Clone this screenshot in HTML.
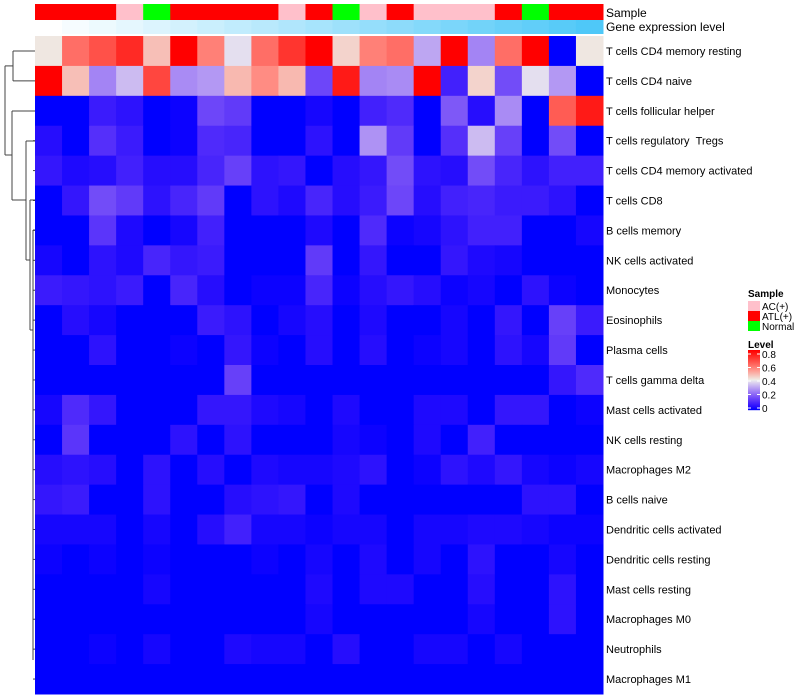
<!DOCTYPE html>
<html><head><meta charset="utf-8"><style>
body{margin:0;background:#fff;}
svg{display:block;font-family:"Liberation Sans",sans-serif;}
</style></head><body>
<svg id="chart" width="800" height="700"></svg>
<script>
const rowLabels=["T cells CD4 memory resting","T cells CD4 naive","T cells follicular helper","T cells regulatory\u00a0\u00a0Tregs","T cells CD4 memory activated","T cells CD8","B cells memory","NK cells activated","Monocytes","Eosinophils","Plasma cells","T cells gamma delta","Mast cells activated","NK cells resting","Macrophages M2","B cells naive","Dendritic cells activated","Dendritic cells resting","Mast cells resting","Macrophages M0","Neutrophils","Macrophages M1"];
const sampleGroups=["ATL","ATL","ATL","AC","Normal","ATL","ATL","ATL","ATL","AC","ATL","Normal","AC","ATL","AC","AC","AC","ATL","Normal","ATL","ATL"];
const values=[
[.41,.6,.65,.72,.47,.8,.57,.38,.6,.7,.8,.44,.57,.6,.3,.8,.25,.6,.8,0,.41],
[.8,.47,.25,.33,.67,.26,.28,.48,.55,.48,.15,.75,.25,.26,.8,.08,.44,.16,.38,.28,0],
[0,0,.07,.05,0,.01,.15,.13,0,0,.02,0,.08,.1,0,.18,.04,.26,0,.63,.75],
[.04,0,.11,.07,0,.01,.1,.09,0,0,.05,0,.27,.13,0,.11,.33,.14,0,.16,0],
[.06,.03,.04,.08,.04,.04,.09,.14,.05,.06,0,.04,.06,.16,.05,.04,.16,.09,.05,.08,.08],
[0,.06,.16,.13,.05,.09,.13,0,.05,.03,.09,.04,.07,.15,.04,.08,.09,.07,.07,.05,0],
[0,0,.12,.03,0,.02,.08,0,0,0,.03,0,.10,.01,.02,.05,.08,.08,0,0,.02],
[.02,0,.05,.03,.09,.06,.07,0,0,0,.13,0,.06,0,0,.06,.03,.02,0,0,0],
[.07,.06,.05,.07,0,.09,.04,0,.01,.01,.09,.01,.04,.06,.04,.01,.02,0,.05,.01,0],
[0,.04,.02,0,0,0,.07,.05,0,.02,.04,0,.03,0,0,.02,0,.06,0,.14,.07],
[0,0,.05,0,0,.01,0,.06,.01,0,.04,0,.04,0,.01,.02,0,.05,.02,.13,0],
[0,0,0,0,0,0,0,.14,0,0,0,0,0,0,0,0,0,0,0,.06,.1],
[.02,.1,.06,0,0,0,.06,.06,.03,.02,0,.03,0,0,.03,.03,0,.06,.06,0,.01],
[0,.12,0,0,0,.05,0,.05,0,0,0,.02,.01,0,.03,0,.08,0,0,0,0],
[.04,.05,.04,0,.05,0,.04,0,.03,.02,.02,.03,.05,0,.01,.05,.03,.06,.02,.01,.02],
[.06,.07,0,0,.05,0,0,.04,.05,.06,0,.03,0,0,0,0,0,0,.05,.05,0],
[.02,.02,.02,0,.02,0,.04,.08,.02,.02,.01,.02,.02,0,.02,.02,.03,.03,.02,.01,.01],
[.01,0,.01,0,.01,0,0,0,.01,0,.02,0,.03,0,.02,0,.05,0,0,.02,0],
[0,0,0,0,.02,0,0,0,0,0,.03,0,.03,.03,0,0,.04,0,0,.05,0],
[0,0,0,0,0,0,0,0,0,0,.02,0,0,0,0,0,.02,0,0,.05,0],
[0,0,.01,0,.02,0,0,.03,.02,.02,0,.04,0,0,.02,.02,0,.02,0,0,0],
[0,0,0,0,0,0,0,0,0,0,0,0,0,0,0,0,0,0,0,0,0]
];
const legendTicks=["0.8","0.6","0.4","0.2","0"];
const NS="http://www.w3.org/2000/svg";
const svg=document.getElementById('chart');
const X0=35,X1=603,Y0=36,Y1=694;
const nC=values[0].length,nR=values.length;
const cw=(X1-X0)/nC,rh=(Y1-Y0)/nR;
const xPos=c=>X0+c*cw, yPos=r=>Y0+r*rh;
function col(v){
  if(v<=0.4){const t=Math.max(0,v)/0.4;return `rgb(${Math.round(238*Math.pow(t,0.8))},${Math.round(238*Math.pow(t,1.25))},${Math.round(255-17*t)})`;}
  const s=Math.min(1,(v-0.4)/0.4);
  const r=Math.round(238+17*Math.min(1,s*3));
  const g=Math.round(238*(1-s)*(1-0.15*s));
  const b=Math.round(232*(1-s)*(1-0.25*s));
  return `rgb(${r},${g},${b})`;
}
const gcol={ATL:"#ff0000",AC:"#ffc0cb",Normal:"#00ff00"};
function mk(tag,attrs){const e=document.createElementNS(NS,tag);for(const k in attrs)e.setAttribute(k,attrs[k]);svg.appendChild(e);return e;}
sampleGroups.forEach((g,c)=>{
  const e=mk('rect',{x:xPos(c),y:4,width:cw+0.5,height:16,fill:gcol[g]});
  
  
  const t=c/(nC-1);
  const e2=mk('rect',{x:xPos(c),y:20,width:cw+0.5,height:14,fill:`rgb(${Math.round(255-176*t)},${Math.round(255-55*t)},${Math.round(255-7*t)})`});
  
  
});
let t1=mk('text',{x:606,y:17,'font-size':12,fill:'#000'});t1.textContent="Sample";

let t2=mk('text',{x:606,y:31,'font-size':12,fill:'#000'});t2.textContent="Gene expression level";

values.forEach((row,r)=>{row.forEach((v,c)=>{
  const e=mk('rect',{x:xPos(c),y:yPos(r),width:cw+0.5,height:rh+0.5,fill:col(v)});
  
  
});
  const t=mk('text',{x:606,y:yPos(r)+rh/2+4,'font-size':11,fill:'#000'});
  t.textContent=rowLabels[r];
  
  
});
const yc=r=>yPos(r)+rh/2;
const dl=[[13,yc(0),35,yc(0)],[13,yc(1),35,yc(1)],[13,yc(0),13,yc(1)],
[5,(yc(0)+yc(1))/2,13,(yc(0)+yc(1))/2],[5,(yc(0)+yc(1))/2,5,155],[5,155,12,155],
[12,111,12,200],[12,111,35,111],[12,200,26,200],[26,141,26,260],[26,141,35,141],[26,260,30,260],[30,200,30,330],[30,200,35,200],[30,330,33,330],[33,230,33,660],[33,230,35,230]];
const g=document.createElementNS(NS,'g');svg.appendChild(g);
dl.forEach(l=>{const e=document.createElementNS(NS,'line');e.setAttribute('x1',l[0]);e.setAttribute('y1',l[1]);e.setAttribute('x2',l[2]);e.setAttribute('y2',l[3]);e.setAttribute('stroke','#444');e.setAttribute('stroke-width','1');g.appendChild(e);});
for(let r=3;r<nR;r++){const e=document.createElementNS(NS,'line');e.setAttribute('x1',33);e.setAttribute('x2',35);e.setAttribute('y1',yc(r));e.setAttribute('y2',yc(r));e.setAttribute('stroke','#444');g.appendChild(e);}
let lt=mk('text',{x:748,y:297,'font-size':10,'font-weight':'bold'});lt.textContent="Sample";

[["AC","AC(+)"],["ATL","ATL(+)"],["Normal","Normal"]].forEach((p,i)=>{
  const r=mk('rect',{x:748,y:301+i*10,width:12,height:10,fill:gcol[p[0]]});
  
  const t=mk('text',{x:762,y:310+i*10,'font-size':10});t.textContent=p[1];
  
});
let lv=mk('text',{x:748,y:348,'font-size':10,'font-weight':'bold'});lv.textContent="Level";

for(let i=0;i<60;i++){const v=0.8-i*0.8/59;const e=mk('rect',{x:748,y:350+i,width:12,height:1.2,fill:col(v)});
  }
legendTicks.forEach((s,i)=>{const y=354+i*13.5;
  const t=mk('text',{x:762,y:y+4,'font-size':10});t.textContent=s;
  
  mk('line',{x1:748,x2:751,y1:y,y2:y,stroke:'#fff'});mk('line',{x1:757,x2:760,y1:y,y2:y,stroke:'#fff'});});
</script>
</body></html>
